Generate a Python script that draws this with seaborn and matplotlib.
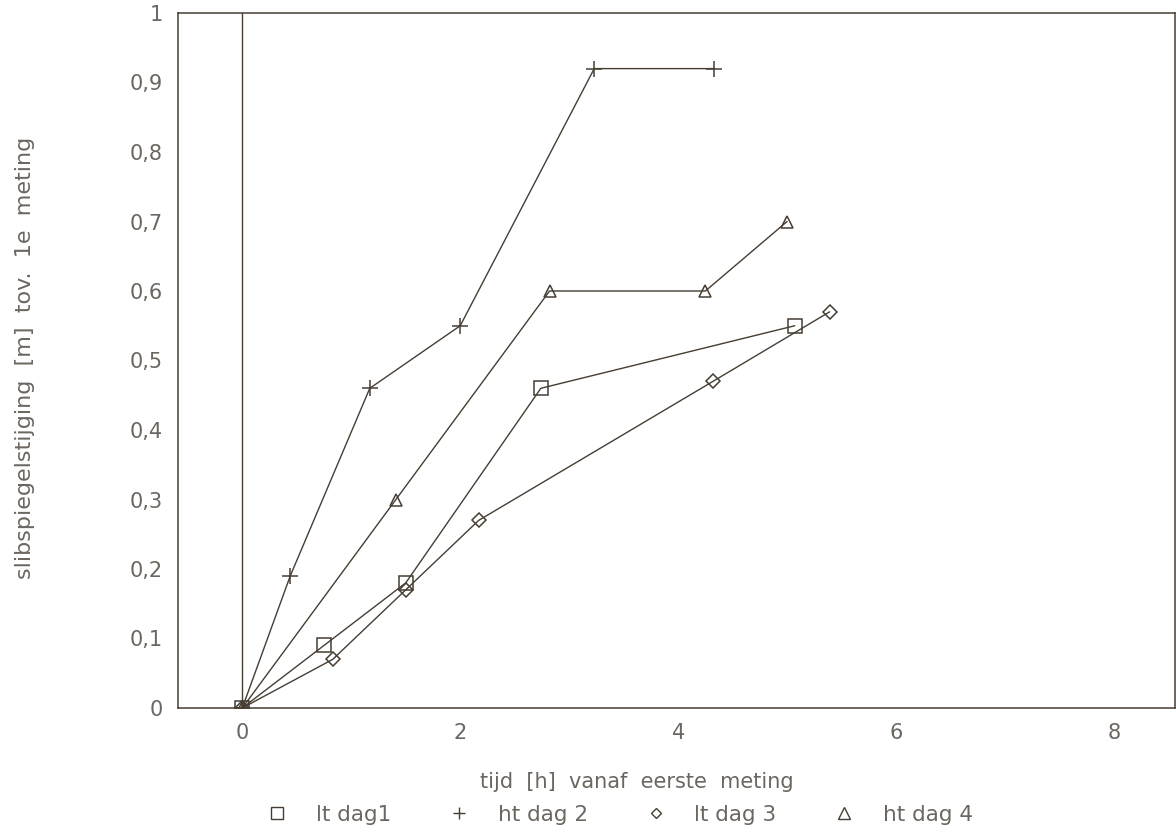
import matplotlib
matplotlib.use("Agg")
import matplotlib.pyplot as plt
from matplotlib.lines import Line2D
import seaborn as sns
import pandas as pd

# ---- data ----
lt_dag1_x = [0.0, 0.75, 1.5, 2.74, 5.07]
lt_dag1_y = [0.0, 0.09, 0.18, 0.46, 0.55]
ht_dag2_x = [0.0, 0.44, 1.17, 2.0, 3.23, 4.33]
ht_dag2_y = [0.0, 0.19, 0.46, 0.55, 0.92, 0.92]
lt_dag3_x = [0.0, 0.83, 1.5, 2.17, 4.32, 5.39]
lt_dag3_y = [0.0, 0.07, 0.17, 0.27, 0.47, 0.57]
ht_dag4_x = [0.0, 1.41, 2.82, 4.25, 5.0]
ht_dag4_y = [0.0, 0.30, 0.60, 0.60, 0.70]
series_names = ["lt dag1", "ht dag 2", "lt dag 3", "ht dag 4"]
x_ticks = [0, 1, 2, 3, 4, 5, 6, 7, 8]
x_labels = ["0", "", "2", "", "4", "", "6", "", "8"]
y_ticks = [0, 0.1, 0.2, 0.3, 0.4, 0.5, 0.6, 0.7, 0.8, 0.9, 1.0]
y_labels = ["0", "0,1", "0,2", "0,3", "0,4", "0,5", "0,6", "0,7", "0,8", "0,9", "1"]
x_title = "tijd  [h]  vanaf  eerste  meting"
y_title = "slibspiegelstijging  [m]  tov.  1e  meting"

sns.set_style("white")
plt.rcParams['font.family'] = ['DejaVu Sans']

ink = "#463d33"
txt = "#6b6660"
FS = 15
LFS = 15.5

fig = plt.figure(figsize=(11.76, 8.31), dpi=100)
ax = fig.add_axes([178/1176, 1 - 708/831, (1175-178)/1176, (708-13)/831])

markers = ["s", "+", "D", "^"]
msizes = [10, 11, 7, 9]
data = [(lt_dag1_x, lt_dag1_y), (ht_dag2_x, ht_dag2_y),
        (lt_dag3_x, lt_dag3_y), (ht_dag4_x, ht_dag4_y)]

for (xs, ys), name, m, ms in zip(data, series_names, markers, msizes):
    df = pd.DataFrame({"x": xs, "y": ys})
    sns.lineplot(data=df, x="x", y="y", ax=ax, sort=False, color=ink,
                 linewidth=1.0, marker=m, markersize=ms,
                 markerfacecolor="none", markeredgecolor=ink,
                 markeredgewidth=1.1, legend=False)

ax.axvline(0, color=ink, linewidth=1.0)
ax.set_xlim(-0.59, 8.56)
ax.set_ylim(0, 1.0)
ax.set_xticks(x_ticks)
ax.set_xticklabels(x_labels)
ax.set_yticks(y_ticks)
ax.set_yticklabels(y_labels)
ax.tick_params(direction="in", width=1.0, color=ink,
               labelsize=FS, labelcolor=txt)
ax.tick_params(axis="x", length=7.5, pad=11)
ax.tick_params(axis="y", length=10, pad=11)
ax.set_xlabel("")
ax.set_ylabel("")
for s in ax.spines.values():
    s.set_color(ink)
    s.set_linewidth(1.1)

fig.text(480/1176, 1 - 782/831, x_title,
         ha="left", va="center", fontsize=FS, color=txt)
fig.text(25/1176, 1 - 358/831, y_title,
         ha="center", va="center", rotation=90, fontsize=FS + 1, color=txt)

handles = [Line2D([], [], linestyle="none", marker=m, markersize=s,
                  markerfacecolor="none", markeredgecolor=ink,
                  markeredgewidth=1.0)
           for m, s in zip(markers, [8, 9, 5.5, 8])]
fs_px = LFS * 100 / 72
leg = fig.legend(handles, series_names, loc="center left", ncol=4,
                 bbox_to_anchor=((277 - 0.5 * fs_px) / 1176, 1 - 815/831),
                 frameon=False, fontsize=LFS, handlelength=1.0,
                 handletextpad=1.3, columnspacing=2.65,
                 borderpad=0, borderaxespad=0)
for t in leg.get_texts():
    t.set_color(txt)

fig.savefig("out.png", dpi=100, facecolor="white")
